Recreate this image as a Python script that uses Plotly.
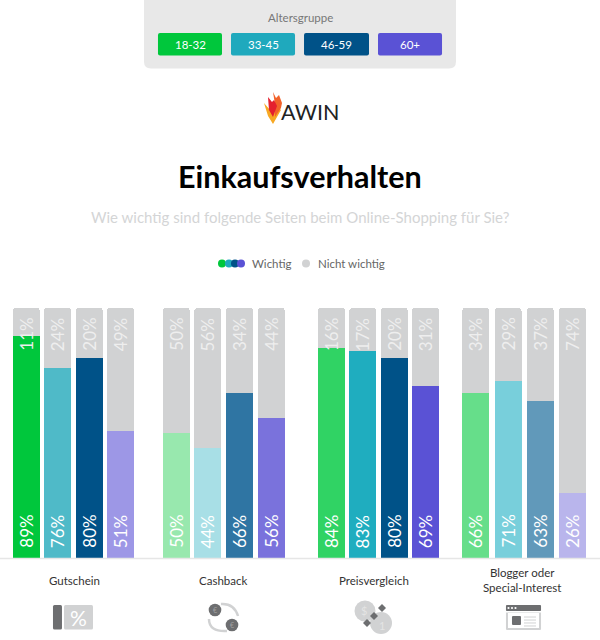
import plotly.graph_objects as go

W, H = 600, 640
categories = ["Gutschein", "Cashback", "Preisvergleich", "Blogger oder<br>Special-Interest"]
age_groups = ["18-32", "33-45", "46-59", "60+"]
group_colors = ["#00c73c", "#1fa9bd", "#005288", "#5a52d5"]
important = [
    [89, 76, 80, 51],
    [50, 44, 66, 56],
    [84, 83, 80, 69],
    [66, 71, 63, 26],
]
not_important = [
    [11, 24, 20, 49],
    [50, 56, 34, 44],
    [16, 17, 20, 31],
    [34, 29, 37, 74],
]
bar_colors = [
    ["#00c73c", "#4fbac8", "#005288", "#9d97e6"],
    ["#98e8ae", "#a8dfe6", "#2f75a3", "#7a72dc"],
    ["#30d364", "#1fadbf", "#005288", "#5a52d5"],
    ["#66de8a", "#78cfdb", "#6199ba", "#b9b5ec"],
]
GREY = "#d1d2d3"
DARK = "#6d6e70"
FONT = "Lato"
group_left = [12.7, 162.7, 318, 462.3]
group_step = [31.5, 31.7, 31.4, 32.2]
bar_w = 27
bar_x = [[l + bar_w / 2 + i * s for i in range(4)] for l, s in zip(group_left, group_step)]
cat_center = [74, 223, 374, 522]

xs = [x for g in bar_x for x in g]
imp = [v for g in important for v in g]
nimp = [v for g in not_important for v in g]
cols = [c for g in bar_colors for c in g]

fig = go.Figure()
fig.add_bar(x=xs, y=imp, width=bar_w, marker=dict(color=cols, line_width=0), hoverinfo="skip")
fig.add_bar(x=xs, y=nimp, width=bar_w, marker=dict(color=GREY, line_width=0), hoverinfo="skip")


def px(x):
    return x / W


def py(y):
    return 1 - y / H


def p(a, b):
    return f"{px(a):.4f},{py(b):.4f}"


shapes, ann = [], []


def text(x, y, s, size, color, weight=400, anchor="center", fam=FONT):
    ann.append(dict(xref="paper", yref="paper", x=px(x), y=py(y), text=s, showarrow=False,
                    xanchor=anchor, yanchor="middle",
                    font=dict(family=fam, size=size, color=color, weight=weight)))


def path(points, color):
    d = "M" + " L".join(p(a, b) for a, b in points) + " Z"
    shapes.append(dict(type="path", xref="paper", yref="paper", path=d, fillcolor=color, line_width=0))


def rrect(x0, y0, x1, y1, r, color):
    d = (f"M{p(x0 + r, y0)} L{p(x1 - r, y0)} Q{p(x1, y0)} {p(x1, y0 + r)} L{p(x1, y1 - r)} "
         f"Q{p(x1, y1)} {p(x1 - r, y1)} L{p(x0 + r, y1)} Q{p(x0, y1)} {p(x0, y1 - r)} "
         f"L{p(x0, y0 + r)} Q{p(x0, y0)} {p(x0 + r, y0)} Z")
    shapes.append(dict(type="path", xref="paper", yref="paper", path=d, fillcolor=color, line_width=0))


def circle(cx, cy, r, color):
    shapes.append(dict(type="circle", xref="paper", yref="paper", x0=px(cx - r), x1=px(cx + r),
                       y0=py(cy + r), y1=py(cy - r), fillcolor=color, line_width=0))


def line(points, color, w):
    d = "M" + " L".join(p(a, b) for a, b in points)
    shapes.append(dict(type="path", xref="paper", yref="paper", path=d, line=dict(color=color, width=w)))


def curve(a, c, b, color, w):
    d = f"M{p(*a)} Q{p(*c)} {p(*b)}"
    shapes.append(dict(type="path", xref="paper", yref="paper", path=d, line=dict(color=color, width=w)))


# Top panel
rrect(144, -8, 456, 68.5, 7, "#e8e8e8")
text(300, 18, "Altersgruppe", 11.5, "#777777")
for (x0, x1), label, c in zip([(158, 222), (231, 295), (304, 369), (378, 442)], age_groups, group_colors):
    rrect(x0, 33, x1, 55.5, 2, c)
    text((x0 + x1) / 2, 44.5, label, 11.5, "#ffffff")

# Logo
path([(264, 103), (270, 110), (273, 115), (277, 106), (281, 110), (273, 124), (268, 116)], "#f7a823")
path([(273, 92), (276, 98), (279, 95), (282, 103), (281, 108), (275, 117), (275, 104)], "#f2622a")
path([(268, 97), (272, 102), (274, 100), (277, 106), (273, 117), (269, 110)], "#e4202e")
text(309.5, 112, "AWIN", 21.5, "#222222")

# Headings
text(300, 176, "Einkaufsverhalten", 30.5, "#000000", 700)
text(300, 217, "Wie wichtig sind folgende Seiten beim Online-Shopping für Sie?", 15, "#d4d5d6")

# Legend
for cx, c in zip([222, 229, 235, 241], group_colors):
    circle(cx, 263.5, 4, c)
text(249.5, 263.5, "Wichtig", 11.5, "#666666", anchor="left")
circle(306, 263.5, 4, GREY)
text(315.5, 263.5, "Nicht wichtig", 11.5, "#666666", anchor="left")

# Baseline
shapes.append(dict(type="line", xref="paper", yref="paper", x0=0, x1=1, y0=py(558.5), y1=py(558.5),
                   line=dict(color="#e6e6e6", width=1.5)))

# Value labels
for x, a, b in zip(xs, imp, nimp):
    ann.append(dict(x=x, y=0, xref="x", yref="y", text=f"{a}%", textangle=-90, showarrow=False,
                    yanchor="bottom", xanchor="center", yshift=8,
                    font=dict(family=FONT, size=17, color="#ffffff")))
    ann.append(dict(x=x, y=a + b, xref="x", yref="y", text=f"{b}%", textangle=-90, showarrow=False,
                    yanchor="top", xanchor="center", yshift=-8,
                    font=dict(family=FONT, size=17, color="#eeeeee")))

# Category labels
for cx, c in zip(cat_center, categories):
    text(cx, 580, c, 11.5, "#333333")

# Icons
rrect(53, 605, 62, 629.5, 1.5, DARK)
rrect(64, 605, 93, 629.5, 1.5, GREY)
text(79, 617, "%", 21, "#ffffff")

curve((221, 604), (234, 603), (238, 616), GREY, 2.5)
curve((209, 619), (209, 632), (227, 631), GREY, 2.5)
circle(215, 610, 6.3, DARK)
circle(232, 625, 6.3, DARK)
text(215, 610, "€", 7, "#a0a0a0")
text(232, 625, "€", 7, "#a0a0a0")

circle(365, 611, 10.5, GREY)
circle(381, 623, 11, GREY)
text(364, 610, "$", 11, "#e4e4e4")
text(382, 625, "1", 11, "#e4e4e4")
for cx, cy in [(367, 623), (374, 616), (382, 608)]:
    path([(cx - 4, cy), (cx, cy - 4), (cx + 4, cy), (cx, cy + 4)], DARK)

rrect(506, 605, 541, 630, 1, GREY)
rrect(506, 605, 541, 611, 1, DARK)
shapes.append(dict(type="rect", xref="paper", yref="paper", x0=px(508), x1=px(539), y0=py(628), y1=py(613),
                   fillcolor="#ffffff", line_width=0))
shapes.append(dict(type="rect", xref="paper", yref="paper", x0=px(506), x1=px(541), y0=py(612.5), y1=py(611),
                   fillcolor="#ffffff", line_width=0))
for cx in [508.5, 512, 515.5]:
    circle(cx, 608, 1.1, "#ffffff")
rrect(512, 616, 521, 625, 1, DARK)
for y in [617, 620, 623, 626]:
    line([(524, y), (536, y)], GREY, 1)

fig.update_layout(
    width=W, height=H, margin=dict(l=0, r=0, t=0, b=0), barmode="stack", barcornerradius=3,
    showlegend=False, paper_bgcolor="#ffffff", plot_bgcolor="#ffffff",
    xaxis=dict(range=[0, W], visible=False, domain=[0, 1], fixedrange=True),
    yaxis=dict(range=[0, 100], visible=False, domain=[(H - 558) / H, (H - 308) / H], fixedrange=True),
    shapes=shapes, annotations=ann,
)
fig.write_html("out.html", config={"displayModeBar": False},
               post_script="document.body.style.margin='0';")
